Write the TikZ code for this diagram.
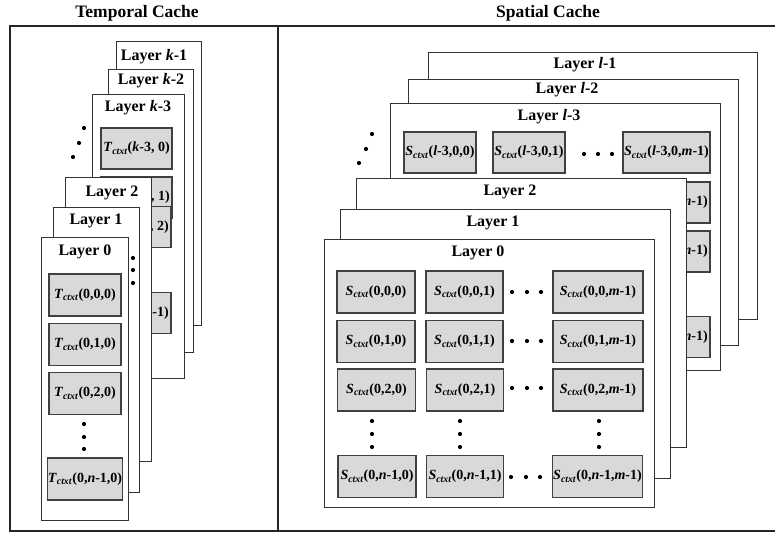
\documentclass[tikz,border=0pt]{standalone}
\usepackage{fontspec}
\setmainfont{Liberation Serif}
\newcommand\myCellFont{\fontsize{14}{16}\selectfont\bfseries}
\newcommand\myLabelFont{\fontsize{16}{19}\selectfont\bfseries}
\newcommand\myTitleFont{\fontsize{17.5}{20}\selectfont\bfseries}
\newcommand\Sctx{\textit{S}\textsubscript{\textit{ctxt}}}
\newcommand\Tctx{\textit{T}\textsubscript{\textit{ctxt}}}
\begin{document}
\begin{tikzpicture}[x=1pt,y=-1pt,
  frame/.style={draw=black!85, line width=1.2pt},
  layerbox/.style={draw=black!80, fill=white, line width=1pt, anchor=north west, inner sep=0pt, outer sep=0pt},
  cell/.style={draw=black!75, fill=black!15, line width=1.2pt, inner sep=0pt, outer sep=0pt, font=\myCellFont},
  lbl/.style={font=\myLabelFont, inner sep=0pt},
  ttl/.style={font=\myTitleFont, inner sep=0pt},
  celltext/.style={font=\myCellFont, inner sep=0pt, anchor=east},
  tc/.style={cell, minimum width=72pt, minimum height=42pt},
  tk/.style={cell, minimum width=71pt, minimum height=41pt},
  sa/.style={cell, minimum width=78pt, minimum height=42pt},
  sb/.style={cell, minimum width=77pt, minimum height=42pt},
  sc/.style={cell, minimum width=90pt, minimum height=42pt},
  sl/.style={cell, minimum width=72pt, minimum height=41pt},
  slc/.style={cell, minimum width=87pt, minimum height=41pt}
]
\useasboundingbox (0,0) rectangle (775,533);
\fill[white] (0,0) rectangle (775,533);

% frame
\draw[frame] (776,26) -- (10,26) -- (10,531) -- (776,531);
\draw[frame] (278,26) -- (278,531);

% titles
\node[ttl] (ttemp) at (137,13) {Temporal Cache};
\node[ttl] (tspat) at (548,13) {Spatial Cache};

% ---------------- Temporal cache ----------------
\node[layerbox, minimum width=85pt, minimum height=284pt] (TK1) at (116,41) {};
\node[lbl] (TK1t) at (154,57) {Layer \textit{k}-1};
\node[layerbox, minimum width=85pt, minimum height=283pt] (TK2) at (108,69) {};
\node[lbl] (TK2t) at (151,81) {Layer \textit{k}-2};
\node[layerbox, minimum width=92pt, minimum height=284pt] (TK3) at (92,94) {};
\node[lbl] (TK3t) at (138,108) {Layer \textit{k}-3};
\node[tk] (k30) at (136.5,148.5) {\Tctx(\textit{k}-3, 0)};
\node[tk] (k31) at (136.5,197.5) {};
\node[celltext] (k31t) at ([xshift=-2pt]k31.east) {, 1)};
\node[tk] (k32) at (135.5,227) {};
\node[celltext] (k32t) at ([xshift=-2pt]k32.east) {, 2)};
\node[tk] (k3n) at (135.5,313) {};
\node[celltext] (k3nt) at ([xshift=-2pt]k3n.east) {\textit{n}-1)};

\node[layerbox, minimum width=86pt, minimum height=284pt] (T2) at (65,177) {};
\node[lbl] (T2t) at (112,193) {Layer 2};
\node[layerbox, minimum width=86pt, minimum height=285pt] (T1) at (53,207) {};
\node[lbl] (T1t) at (96,221) {Layer 1};
\node[layerbox, minimum width=87pt, minimum height=283pt] (T0) at (41,237) {};
\node[lbl] (T0t) at (85,252) {Layer 0};
\node[tc] (t00) at (85,295) {\Tctx(0,0,0)};
\node[tc] (t01) at (85,344.5) {\Tctx(0,1,0)};
\node[tc] (t02) at (85,393.5) {\Tctx(0,2,0)};
\node[tc] (t0n) at (85,479) {\Tctx(0,\textit{n}-1,0)};

\foreach \p in {(84,128),(79,143),(73,157),(133,258),(133,270),(133,283),(84,424),(84,437),(84,449)}
  \fill \p circle (2.1);

% ---------------- Spatial cache ----------------
\node[layerbox, minimum width=329pt, minimum height=267pt] (SL1) at (428,52) {};
\node[lbl] (SL1t) at (585,65) {Layer \textit{l}-1};
\node[layerbox, minimum width=330pt, minimum height=266pt] (SL2) at (408,79) {};
\node[lbl] (SL2t) at (567,90) {Layer \textit{l}-2};
\node[layerbox, minimum width=330pt, minimum height=267pt] (SL3) at (390,103) {};
\node[lbl] (SL3t) at (549,117) {Layer \textit{l}-3};
\node[sl] (l00) at (440,152.5) {\Sctx(\textit{l}-3,0,0)};
\node[sl] (l01) at (529,152.5) {\Sctx(\textit{l}-3,0,1)};
\node[slc] (l0m) at (666.5,152.5) {\Sctx(\textit{l}-3,0,\textit{m}-1)};
\node[slc] (l1m) at (666.5,202.5) {};
\node[celltext] (l1mt) at ([xshift=-2pt]l1m.east) {\textit{m}-1)};
\node[slc] (l2m) at (666.5,251.5) {};
\node[celltext] (l2mt) at ([xshift=-2pt]l2m.east) {\textit{m}-1)};
\node[slc] (lnm) at (666.5,337) {};
\node[celltext] (lnmt) at ([xshift=-2pt]lnm.east) {\textit{m}-1)};

\node[layerbox, minimum width=330pt, minimum height=269pt] (S2) at (356,178) {};
\node[lbl] (S2t) at (510,192) {Layer 2};
\node[layerbox, minimum width=330pt, minimum height=269pt] (S1) at (340,209) {};
\node[lbl] (S1t) at (493,223) {Layer 1};
\node[layerbox, minimum width=330pt, minimum height=268pt] (S0) at (324,239) {};
\node[lbl] (S0t) at (478,253) {Layer 0};

\node[sa] (s00) at (376,292) {\Sctx(0,0,0)};
\node[sb] (s01) at (464.5,292) {\Sctx(0,0,1)};
\node[sc] (s0m) at (598,292) {\Sctx(0,0,\textit{m}-1)};
\node[sa] (s10) at (376,341.5) {\Sctx(0,1,0)};
\node[sb] (s11) at (464.5,341.5) {\Sctx(0,1,1)};
\node[sc] (s1m) at (598,341.5) {\Sctx(0,1,\textit{m}-1)};
\node[sa] (s20) at (376.5,390) {\Sctx(0,2,0)};
\node[sb] (s21) at (465,390) {\Sctx(0,2,1)};
\node[sc] (s2m) at (598,390) {\Sctx(0,2,\textit{m}-1)};
\node[sa] (sn0) at (377,476.5) {\Sctx(0,\textit{n}-1,0)};
\node[sb] (sn1) at (465,476.5) {\Sctx(0,\textit{n}-1,1)};
\node[sc] (snm) at (597.5,476.5) {\Sctx(0,\textit{n}-1,\textit{m}-1)};

\foreach \p in {(372,134),(366,149),(359,163),(584,154),(598,154),(612,154),
  (512,292),(527,292),(541,292),(512,341),(527,341),(541,341),(512,388),(527,388),(541,388),
  (511,477),(526,477),(540,477),
  (372,421),(372,434),(372,447),(460,421),(460,434),(460,447),(599,421),(599,434),(599,447)}
  \fill \p circle (2.1);
\end{tikzpicture}
\end{document}
